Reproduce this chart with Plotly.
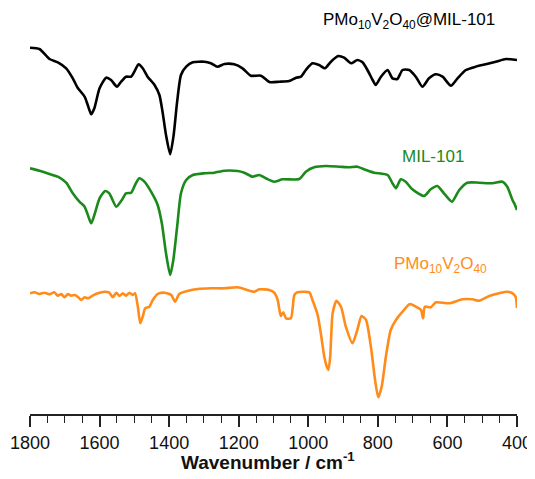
import plotly.graph_objects as go

# Wavenumber (cm-1) and relative (offset) transmittance
black_wn = [1800, 1773, 1744, 1720, 1696, 1677, 1663, 1643, 1634, 1624, 1615, 1600, 1581, 1567, 1550,
            1538, 1524, 1509, 1500, 1488, 1476, 1462, 1442, 1428, 1419, 1409, 1397, 1387, 1377, 1366,
            1351, 1332, 1299, 1280, 1261, 1241, 1213, 1189, 1165, 1136, 1112, 1083, 1055, 1035, 1021,
            1007, 988, 969, 952, 935, 914, 897, 877, 859, 844, 830, 815, 806, 791, 772, 758, 744, 729,
            710, 691, 672, 653, 633, 614, 590, 571, 547, 519, 490, 461, 432, 418, 400]
black_t = [366.3, 365, 355, 351.7, 345.7, 335.7, 326.3, 317.3, 309, 299.7, 305.7, 325.7, 336.3, 334, 327.3,
           332.3, 337.3, 337.3, 342.3, 349.7, 345.7, 337.3, 329, 319, 302.3, 279, 259.7, 279, 312.3, 339,
           347.3, 351.7, 352.3, 350.7, 347.3, 350, 349.7, 345.7, 338.3, 338.3, 332, 332.3, 333, 336.3, 337.3,
           344, 350.7, 349, 345.7, 352.3, 358, 356.3, 350.7, 354, 351.7, 344, 334, 329, 337.3, 344, 335.7,
           335, 344, 344, 337.3, 327.3, 335.7, 339.7, 337.3, 328.3, 335.7, 344, 347.3, 349.7, 352.3, 355,
           354.7, 354]

green_wn = [1800, 1773, 1744, 1720, 1696, 1677, 1658, 1643, 1632, 1624, 1615, 1600, 1584, 1572, 1552,
            1536, 1524, 1509, 1498, 1486, 1471, 1452, 1433, 1421, 1409, 1397, 1388, 1377, 1366, 1351,
            1332, 1299, 1270, 1241, 1203, 1184, 1160, 1141, 1122, 1098, 1074, 1026, 1007, 983, 949, 911,
            883, 859, 834, 811, 772, 758, 748, 734, 720, 701, 667, 648, 629, 610, 587, 566, 543, 509,
            471, 442, 428, 413, 408, 400]
green_t = [245.7, 243.3, 240, 237.3, 231.3, 220.7, 212.3, 207.3, 197.3, 190.7, 199, 215.7, 223, 220.7, 207.3,
           214, 220.7, 221.3, 229, 235.7, 232.3, 222.3, 209, 190.7, 160.7, 139, 154, 187.3, 220.7, 234,
           239, 240.7, 241.3, 243.3, 243, 241.3, 237.3, 239, 235.7, 232.3, 234.7, 235, 242.3, 246.7, 248,
           247.3, 246.7, 247.3, 244, 241.3, 239, 230.7, 225.7, 234.7, 232.3, 224.7, 218, 224.7, 228, 220.7,
           212.3, 224, 231.3, 231.3, 230.7, 232.3, 227.3, 214, 210.7, 204]

orange_wn = [1800, 1787, 1773, 1758, 1744, 1730, 1720, 1710, 1701, 1691, 1682, 1672, 1663, 1653, 1643,
             1634, 1620, 1605, 1586, 1572, 1562, 1552, 1543, 1533, 1524, 1514, 1505, 1498, 1490, 1483,
             1476, 1469, 1457, 1447, 1433, 1414, 1394, 1383, 1371, 1347, 1318, 1280, 1241, 1203, 1155,
             1141, 1112, 1098, 1088, 1079, 1072, 1064, 1050, 1040, 1031, 997, 988, 973, 964, 954, 946,
             942, 937, 930, 919, 906, 892, 873, 859, 847, 834, 820, 808, 799, 789, 777, 763, 748, 729,
             708, 691, 676, 670, 665, 648, 633, 595, 557, 528, 509, 480, 452, 428, 413, 404, 400]
orange_t = [120.7, 121.7, 120, 121.3, 119.7, 121.7, 118.3, 120, 116.7, 120, 118.3, 119, 117.3, 114, 116.7,
            115.7, 118.3, 120.7, 122.3, 121.3, 116.7, 121.3, 118, 120.7, 118.3, 121.3, 119, 120.7, 107.3, 90.7,
            97.3, 105.7, 107.3, 114, 120, 121.3, 119, 112.3, 120, 123, 125, 125.7, 125.7, 126.7, 122.3,
            124.7, 124, 121.3, 114, 98, 101.7, 95.7, 95.7, 119, 121.7, 121.7, 114, 99, 80.7, 57.3, 46.7,
            44, 57.3, 100.7, 113.3, 107.3, 87.3, 70.7, 84, 98, 94, 67.3, 34, 16.7, 27.3, 57.3, 84, 94, 102.3,
            110, 107.3, 104, 95.7, 107.3, 106.7, 111.7, 110.7, 114.7, 114.7, 113.3, 118, 120.7, 122.3, 120.7,
            117.3, 106]

x_ticks = [1800, 1600, 1400, 1200, 1000, 800, 600, 400]
series_labels = ["PMo<sub>10</sub>V<sub>2</sub>O<sub>40</sub>@MIL-101", "MIL-101",
                 "PMo<sub>10</sub>V<sub>2</sub>O<sub>40</sub>"]
x_title = "Wavenumber / cm<sup>-1</sup>"

FONT = "Liberation Sans, Arial, sans-serif"
BLACK = "#000000"
GREEN = "#1a8a1a"
ORANGE = "#ff8c1a"

fig = go.Figure()
for wn, t, col in [(black_wn, black_t, BLACK), (green_wn, green_t, GREEN), (orange_wn, orange_t, ORANGE)]:
    fig.add_trace(go.Scatter(x=wn, y=t, mode="lines",
                             line=dict(color=col, width=2.6, shape="spline", smoothing=0.6),
                             showlegend=False, hoverinfo="skip"))

label_pos = [(0.598, 0.968, BLACK), (0.759, 0.635, GREEN), (0.743, 0.367, ORANGE)]
for txt, (lx, ly, col) in zip(series_labels, label_pos):
    fig.add_annotation(text=txt, x=lx, y=ly, xref="paper", yref="paper",
                       xanchor="left", yanchor="middle", showarrow=False,
                       font=dict(family=FONT, size=17, color=col))

fig.add_annotation(text="<b>" + x_title + "</b>", x=0.488, y=-0.116, xref="paper", yref="paper",
                   xanchor="center", yanchor="middle", showarrow=False,
                   font=dict(family=FONT, size=19, color="#111111"))

fig.update_xaxes(range=[1800, 400], tickvals=x_ticks, ticktext=[str(v) for v in x_ticks],
                 ticks="outside", ticklen=11, tickwidth=1.5, tickcolor="#222222",
                 showline=True, linewidth=1.8, linecolor="#222222", showgrid=False, zeroline=False,
                 tickfont=dict(family=FONT, size=18, color="#111111"),
                 minor=dict(dtick=50, ticks="outside", ticklen=7, tickwidth=1.3, tickcolor="#222222",
                            showgrid=False))
fig.update_yaxes(range=[0, 406], visible=False, showgrid=False, zeroline=False)

fig.update_layout(width=527, height=471, margin=dict(l=22, r=18, t=0, b=65),
                  paper_bgcolor="white", plot_bgcolor="white",
                  font=dict(family=FONT))

fig.write_html("out.html")
